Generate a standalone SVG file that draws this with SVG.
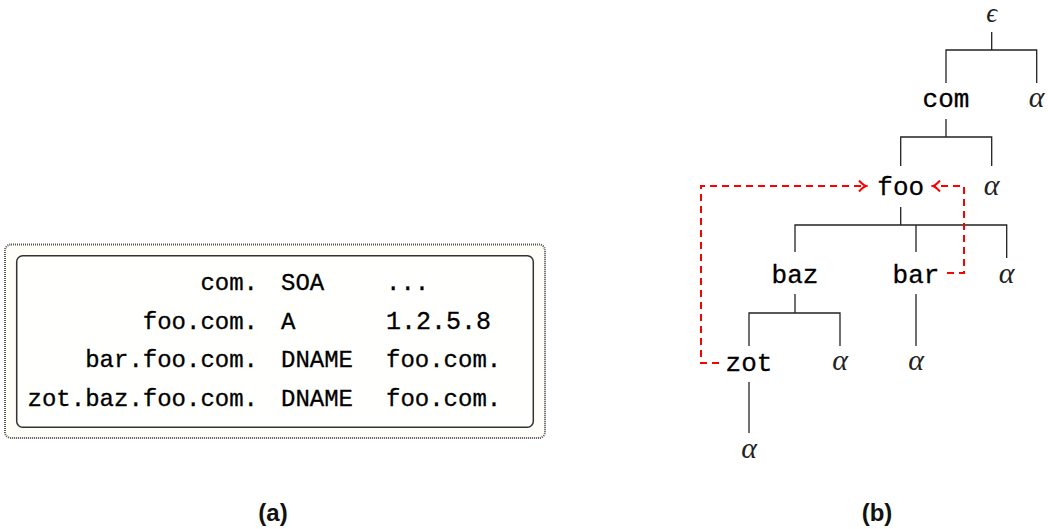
<svg xmlns="http://www.w3.org/2000/svg" width="1048" height="529" viewBox="0 0 1048 529">
<defs>
<style>
.tt{font-family:"Liberation Mono","DejaVu Sans Mono",monospace;font-size:24px;fill:#000;stroke:#000;stroke-width:0.3}
.nd{font-family:"Liberation Mono","DejaVu Sans Mono",monospace;font-size:26px;fill:#000;stroke:#000;stroke-width:0.3;text-anchor:middle}
.gr{font-family:"Liberation Serif","DejaVu Serif",serif;font-style:italic;font-size:30px;fill:#222;text-anchor:middle}
.lbl{font-family:"Liberation Sans","DejaVu Sans",sans-serif;font-weight:bold;font-size:24px;fill:#111;text-anchor:middle}
.edge{stroke:#222;stroke-width:1.3;fill:none}
.red{stroke:#f00;stroke-width:2;fill:none;stroke-dasharray:7,5}
</style>
<marker id="chev" viewBox="0 0 10 12" markerWidth="10" markerHeight="12" refX="8" refY="6" orient="auto" markerUnits="userSpaceOnUse">
<path d="M1,0.5 Q5,5 8,6 Q5,7 1,11.5" stroke="#f00" stroke-width="2" fill="none"/>
</marker>
</defs>
<g id="table">
<rect x="5" y="244.5" width="540" height="193.5" rx="6" fill="#fefdf8" stroke="#555" stroke-width="2" stroke-dasharray="1,1"/>
<rect x="16.7" y="255.7" width="516.6" height="171.6" rx="6" fill="#fffffd" stroke="#333" stroke-width="1.5"/>
<g class="tt">
<text x="258" y="290" text-anchor="end">com.</text>
<text x="281" y="290">SOA</text>
<text x="386" y="290">...</text>
<text x="258" y="329" text-anchor="end">foo.com.</text>
<text x="281" y="329">A</text>
<text x="386" y="329" style="font-size:25px">1.2.5.8</text>
<text x="258" y="367" text-anchor="end">bar.foo.com.</text>
<text x="281" y="367">DNAME</text>
<text x="386" y="367">foo.com.</text>
<text x="258" y="406" text-anchor="end">zot.baz.foo.com.</text>
<text x="281" y="406">DNAME</text>
<text x="386" y="406">foo.com.</text>
</g>
</g>
<g id="connectors">
<path class="edge" d="M991.7,32V50M946,83V50H1036.7V83"/>
<path class="edge" d="M946,119V137M900.7,166V137H991.7V166"/>
<path class="edge" d="M900.7,207V225M795,252V225H1006.7V258M916,225V252"/>
<path class="edge" d="M795,294V313M749,346V313H840V346"/>
<path class="edge" d="M916,294V346"/>
<path class="edge" d="M749,382V433"/>
<path class="red" d="M719,363H701V186H866" marker-end="url(#chev)"/>
<path class="red" d="M947,273H964V186H933" marker-end="url(#chev)"/>
</g>
<g id="n-eps"><text class="gr" x="991.7" y="22" style="font-size:27px">ϵ</text></g>
<g id="n-com"><text class="nd" x="946" y="107">com</text></g>
<g id="n-alpha1"><text class="gr" x="1036.7" y="107">α</text></g>
<g id="n-foo"><text class="nd" x="900.7" y="195">foo</text></g>
<g id="n-alpha2"><text class="gr" x="991.7" y="195">α</text></g>
<g id="n-baz"><text class="nd" x="795" y="283">baz</text></g>
<g id="n-bar"><text class="nd" x="916" y="283">bar</text></g>
<g id="n-alpha3"><text class="gr" x="1006.7" y="283">α</text></g>
<g id="n-zot"><text class="nd" x="749" y="371">zot</text></g>
<g id="n-alpha4"><text class="gr" x="840" y="370">α</text></g>
<g id="n-alpha5"><text class="gr" x="916" y="370">α</text></g>
<g id="n-alpha6"><text class="gr" x="749" y="458">α</text></g>
<g id="captions">
<text class="lbl" x="273" y="521">(a)</text>
<text class="lbl" x="877" y="521">(b)</text>
</g>
</svg>
